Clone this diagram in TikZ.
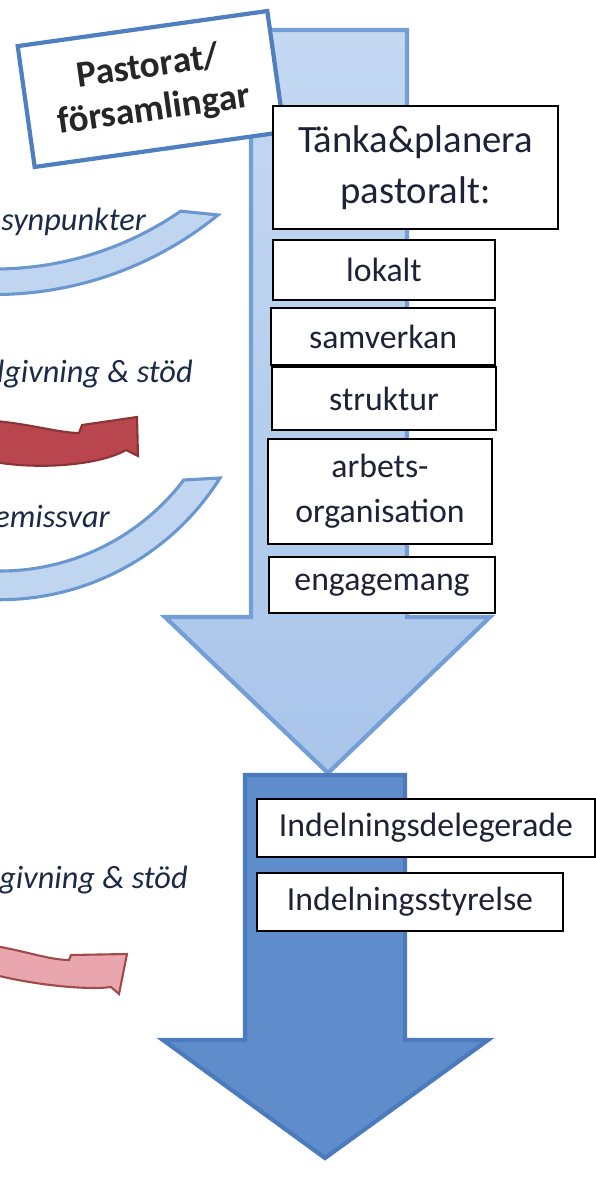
\documentclass[tikz,border=0pt]{standalone}
\usepackage{fontspec}
\setmainfont{Carlito}
\definecolor{lightfill}{HTML}{C4D8F2}
\definecolor{lightfilldk}{HTML}{A9C5EA}
\definecolor{lightline}{HTML}{739ED6}
\definecolor{darkfill}{HTML}{5F8DCB}
\definecolor{darkline}{HTML}{4C7BBD}
\definecolor{bandfill}{HTML}{C0D5F0}
\definecolor{bandline}{HTML}{6A97D0}
\definecolor{redfill}{HTML}{B9464F}
\definecolor{redline}{HTML}{8A3434}
\definecolor{pinkfill}{HTML}{EAA6AF}
\definecolor{pinkline}{HTML}{A04B4B}
\definecolor{boxtext}{HTML}{1E2236}
\definecolor{labeltext}{HTML}{1C2A48}
\definecolor{pastline}{HTML}{4F7FBE}
\begin{document}
\begin{tikzpicture}[x=0.025cm,y=-0.025cm]
\tikzset{every node/.style={font=\fontsize{24}{32}\selectfont, text=boxtext},
  itembox/.style={draw=black, line width=1.2pt, fill=white, align=center, inner sep=0pt},
  sidetext/.style={font=\fontsize{23}{27}\selectfont\itshape, text=labeltext, inner sep=0pt},
  band/.style={fill=bandfill, draw=bandline, line width=2.2pt},
}
\useasboundingbox (0,0) rectangle (596,1197);
\clip (0,0) rectangle (596,1197);

% Big arrows
\draw[top color=lightfill, bottom color=lightfilldk, draw=lightline, line width=3pt, line join=miter]
  (251,30) -- (407,30) -- (407,617) -- (490,617) -- (328,773) -- (165,617) -- (251,617) -- cycle;
\draw[fill=darkfill, draw=darkline, line width=3pt, line join=miter]
  (245,775) -- (405,775) -- (405,1040) -- (488,1040) -- (325,1158) -- (163,1040) -- (245,1040) -- cycle;

% Bands and small arrows on the left
\coordinate (c1) at (-5,-58);
\coordinate (c2) at (0,340);
\draw[band] ([shift={(50.75:352.5)}]c1) arc[start angle=50.75, end angle=100, radius=352.5]
  -- ([shift={(100:327)}]c1) arc[start angle=100, end angle=55.4, radius=327] -- cycle;
\draw[band] ([shift={(32.1:259.7)}]c2) arc[start angle=32.1, end angle=100, radius=259.7]
  -- ([shift={(100:231)}]c2) arc[start angle=100, end angle=37.3, radius=231] -- cycle;

\draw[fill=redfill, draw=redline, line width=1.5pt, line join=miter]
  (-5,421) .. controls (30,424) and (60,433) .. (79,433) -- (82,425) -- (137,417) -- (138,456)
  -- (126,450) .. controls (100,465) and (40,470) .. (-5,462) -- cycle;
\draw[fill=pinkfill, draw=pinkline, line width=1.5pt, line join=miter]
  (-5,946) .. controls (25,951) and (50,960) .. (69,960) -- (71,955) -- (127,954) -- (119,994)
  -- (111,987) .. controls (90,990) and (40,986) .. (-5,975) -- cycle;

\node[sidetext, anchor=base west] (synp) at (1,230) {synpunkter};
\node[sidetext, anchor=base east] (rad1) at (193,382) {dgivning \& stöd};
\node[sidetext, anchor=base east] (remiss) at (110,527) {emissvar};
\node[sidetext, anchor=base east] (rad2) at (188,888) {dgivning \& stöd};

% Boxes
\node[draw=pastline, line width=3pt, fill=white, rotate=8, minimum width=6.3cm, minimum height=3.05cm,
  align=center, inner sep=0pt, text=black!85, font=\fontsize{26.5}{31}\selectfont\bfseries]
  (pastorat) at (151,89) {Pastorat/\\församlingar};

\node[itembox, minimum width=7.125cm, minimum height=3.075cm, font=\fontsize{27.5}{36}\selectfont]
  (tanka) at (415.5,167.5) {Tänka\&planera\\pastoralt:};
\node[itembox, minimum width=5.55cm, minimum height=1.5cm] (lokalt) at (384,270) {lokalt};
\node[itembox, minimum width=5.6cm, minimum height=1.425cm] (samverkan) at (383,336.5) {samverkan};
\node[itembox, minimum width=5.6cm, minimum height=1.575cm] (struktur) at (384,398.5) {struktur};
\node[itembox, minimum width=5.6cm, minimum height=2.625cm] (arbets) at (380,491.5) {arbets-\\organisation};
\node[itembox, minimum width=5.65cm, minimum height=1.4cm] (engagemang) at (382,585) {engagemang};

\node[itembox, minimum width=8.45cm, minimum height=1.45cm] (deleg) at (426,828) {Indelningsdelegerade};
\node[itembox, minimum width=7.65cm, minimum height=1.45cm] (styr) at (410,902) {Indelningsstyrelse};

\end{tikzpicture}
\end{document}
